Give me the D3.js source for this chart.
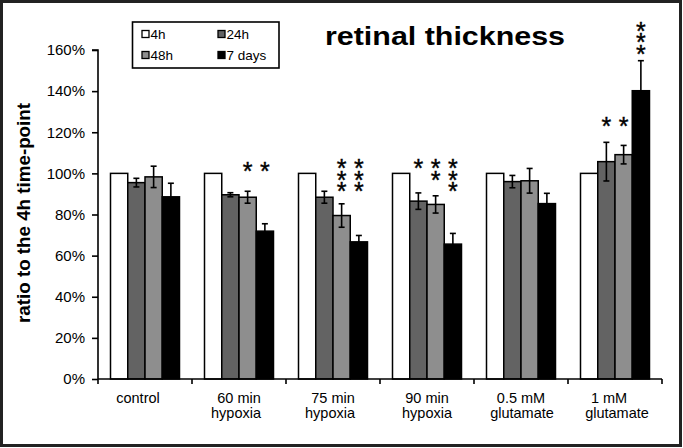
<!DOCTYPE html>
<html>
<head>
<meta charset="utf-8">
<script src="https://cdn.jsdelivr.net/npm/d3@7"></script>
<style>
  html, body { margin: 0; padding: 0; background: #fff; }
  svg { display: block; }
  text { font-family: "Liberation Sans", Arial, sans-serif; fill: #000; }
</style>
</head>
<body>
<svg id="chart" width="683" height="448"></svg>
<script>
// ---------- data ----------
const categories = [["control"], ["60 min", "hypoxia"], ["75 min", "hypoxia"], ["90 min", "hypoxia"], ["0.5 mM", "glutamate"], ["1 mM", "glutamate"]];
const seriesNames = ["4h", "24h", "48h", "7 days"];
const values4h  = [100, 100, 100, 100, 100, 100];
const values24h = [95.5, 89.6, 88.4, 86.5, 96.0, 105.7];
const values48h = [98.3, 88.4, 79.5, 84.9, 96.4, 109.1];
const values7d  = [88.6, 71.9, 66.7, 65.6, 85.3, 140.2];
const err24h = [2.1, 1.0, 2.9, 4.0, 3.0, 9.4];
const err48h = [5.2, 2.9, 5.7, 4.2, 6.0, 4.5];
const err7d  = [6.6, 3.6, 3.1, 5.2, 5.0, 14.6];
const yTicks = [0, 20, 40, 60, 80, 100, 120, 140, 160];
// significance asterisks: category index, series index, number of stars, level (%) of top star
const starCat    = [1, 1, 2, 2, 3, 3, 3, 5, 5, 5];
const starSeries = [2, 3, 2, 3, 1, 2, 3, 1, 2, 3];
const starCount  = [1, 1, 3, 3, 1, 2, 3, 1, 1, 3];
const starLevel  = [103.8, 103.8, 104.9, 104.9, 104.9, 104.9, 104.9, 125.6, 125.6, 171.7];

const seriesValues = [values4h, values24h, values48h, values7d];
const seriesErrors = [null, err24h, err48h, err7d];
const colors = ["#ffffff", "#636363", "#8e8e8e", "#000000"];

// ---------- layout ----------
const svg = d3.select("#chart");
const x0 = d3.scaleBand().domain(d3.range(categories.length)).range([98, 662]).paddingInner(0.266).paddingOuter(0.133);
const x1 = d3.scaleBand().domain(d3.range(seriesNames.length)).range([0, x0.bandwidth()]);
const y = d3.scaleLinear().domain([0, 160]).range([379, 50]);

// outer frame
svg.append("rect").attr("x", 1.5).attr("y", 1.5).attr("width", 679).attr("height", 444)
  .attr("fill", "#fff").attr("stroke", "#222").attr("stroke-width", 3);

// bars
const groups = svg.append("g").selectAll("g").data(categories).join("g")
  .attr("transform", (d, i) => `translate(${x0(i)},0)`);

groups.each(function(_, ci) {
  const g = d3.select(this);
  seriesNames.forEach((s, si) => {
    const v = seriesValues[si][ci];
    g.append("rect")
      .attr("x", x1(si)).attr("y", y(v))
      .attr("width", x1.bandwidth()).attr("height", y(0) - y(v))
      .attr("fill", colors[si]).attr("stroke", "#000").attr("stroke-width", 1.5);
  });
  seriesNames.forEach((s, si) => {
    const errs = seriesErrors[si];
    if (!errs) return;
    const v = seriesValues[si][ci], e = errs[ci];
    const cx = x1(si) + x1.bandwidth() / 2;
    const eg = g.append("g").attr("stroke", "#000").attr("stroke-width", 1.6);
    eg.append("line").attr("x1", cx).attr("x2", cx).attr("y1", y(v + e)).attr("y2", y(v - e));
    eg.append("line").attr("x1", cx - 3).attr("x2", cx + 3).attr("y1", y(v + e)).attr("y2", y(v + e));
    eg.append("line").attr("x1", cx - 3).attr("x2", cx + 3).attr("y1", y(v - e)).attr("y2", y(v - e));
  });
});

// asterisks (one text element per stack)
const starFs = 25;
const starStepPx = 11.5;
starCat.forEach((ci, k) => {
  const si = starSeries[k];
  const cx = x0(ci) + x1(si) + x1.bandwidth() / 2;
  const cy = y(starLevel[k]);
  const t = svg.append("text").attr("text-anchor", "middle")
    .style("font-size", starFs + "px").attr("stroke", "#000").attr("stroke-width", 0.4);
  for (let j = 0; j < starCount[k]; j++) {
    t.append("tspan").attr("x", cx).attr("y", cy + 0.56 * starFs + j * starStepPx).text("*");
  }
});

// y axis
const yAxis = d3.axisLeft(y).tickValues(yTicks).tickFormat(d => d + "%").tickSize(6).tickPadding(7);
const ya = svg.append("g").attr("transform", "translate(98,0)").call(yAxis);
ya.selectAll("path, line").attr("stroke", "#000").attr("stroke-width", 1.6);
ya.select(".domain").attr("d", `M-6,${y(160)}H0V${y(0)}`);
ya.selectAll("text").style("font-size", "15px").style("font-family", "'Liberation Sans', Arial, sans-serif").attr("fill", "#000");

// x axis (ticks at category boundaries)
const boundaries = d3.range(categories.length + 1).map(i => 98 + i * x0.step());
const xa = svg.append("g");
xa.append("line").attr("x1", 98).attr("x2", 662).attr("y1", y(0)).attr("y2", y(0)).attr("stroke", "#000").attr("stroke-width", 1.6);
xa.selectAll("line.tk").data(boundaries).join("line").attr("class", "tk")
  .attr("x1", d => d).attr("x2", d => d).attr("y1", y(0)).attr("y2", y(0) + 5)
  .attr("stroke", "#000").attr("stroke-width", 1.6);
const labelDx = [[-7], [0, -3], [0, -3], [0, 0], [0, 1], [-6, 2]];
categories.forEach((lines, i) => {
  const cx = x0(i) + x0.bandwidth() / 2;
  lines.forEach((ln, j) => {
    xa.append("text").attr("x", cx + labelDx[i][j]).attr("y", 402.5 + j * 15)
      .attr("text-anchor", "middle").style("font-size", "14.5px").text(ln);
  });
});

// y axis title
svg.append("text").attr("transform", "translate(30,213) rotate(-90)")
  .attr("text-anchor", "middle").style("font-size", "18px").style("font-weight", "bold")
  .attr("textLength", 220).attr("lengthAdjust", "spacingAndGlyphs")
  .text("ratio to the 4h time-point");

// chart title
svg.append("text").attr("x", 325).attr("y", 44.5)
  .style("font-size", "25px").style("font-weight", "bold")
  .attr("textLength", 240).attr("lengthAdjust", "spacingAndGlyphs")
  .text("retinal thickness");

// legend
const lg = svg.append("g");
lg.append("rect").attr("x", 132.5).attr("y", 22).attr("width", 146.5).attr("height", 46)
  .attr("fill", "#fff").attr("stroke", "#000").attr("stroke-width", 1.6);
const legPos = [[142, 38.5], [218, 38.5], [142, 59.5], [218, 59.5]];
seriesNames.forEach((s, i) => {
  const [lx, ly] = legPos[i];
  lg.append("rect").attr("x", lx).attr("y", ly - 8).attr("width", 7).attr("height", 7)
    .attr("fill", colors[i]).attr("stroke", "#000").attr("stroke-width", 1.3);
  lg.append("text").attr("x", lx + 8.5).attr("y", ly).style("font-size", "13.5px").text(s);
});
</script>
</body>
</html>
